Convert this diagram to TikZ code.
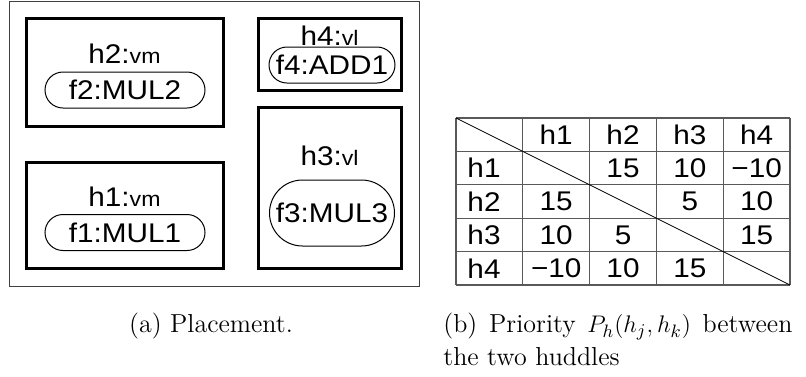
\documentclass[tikz,border=0pt]{standalone}
\usepackage{fontspec}
\setsansfont[FakeStretch=1.1]{Liberation Sans}
\usetikzlibrary{calc}
\colorlet{frame-line}{black!75}
\colorlet{grid-line}{black!65}

% small resource type after the huddle name
\newcommand\restype[1]{{\fontsize{10.5}{11}\selectfont v#1}}

\begin{document}
\begin{tikzpicture}[x=0.5pt,y=-0.5pt,
	huddle/.style={draw,line width=1.5pt},
	hname/.style={font=\sffamily\fontsize{13.5}{15}\selectfont,inner sep=0pt,anchor=base},
	unit/.style={draw,line width=0.5pt,rounded corners=9pt,minimum width=80pt,minimum height=18pt,inner sep=0pt,font=\sffamily\fontsize{13.5}{15}\selectfont},
	cell/.style={font=\sffamily\fontsize{13.5}{15}\selectfont,inner sep=0pt},
	caption/.style={font=\fontsize{13}{16.5}\selectfont,inner sep=0pt}]
	\useasboundingbox (0,0) rectangle (806,376);
	% placement area
	\draw[frame-line,line width=0.5pt] (9,1) rectangle (419,286);
	\draw[huddle] (26,18) rectangle (223,126);
	\draw[huddle] (26,162) rectangle (223,268);
	\draw[huddle] (258,18) rectangle (401,90);
	\draw[huddle] (258,107) rectangle (401,268);
	\node[hname] (h2) at (124.5,63) {h2:\restype{m}};
	\node[unit] (f2) at (125,90) {f2:MUL2};
	\node[hname] (h1) at (124.5,206) {h1:\restype{m}};
	\node[unit] (f1) at (125,232.5) {f1:MUL1};
	\node[hname] (h4) at (329.5,45) {h4:\restype{l}};
	\node[unit,minimum width=63pt] (f4) at (332,65) {f4:ADD1};
	\node[hname] (h3) at (329.5,165) {h3:\restype{l}};
	\node[unit,minimum width=62.5pt,minimum height=33pt,rounded corners=16.5pt] (f3) at (332,213) {f3:MUL3};
	% priority table
	\coordinate (tl) at (456,118);
	\coordinate (br) at (790,285);
	\foreach \c in {0,...,5}
		\draw[grid-line,line width=0.6pt] ($(tl)+(66.8*\c,0)$) -- ++(0,167);
	\foreach \r in {0,...,5}
		\draw[grid-line,line width=0.6pt] ($(tl)+(0,33.4*\r)$) -- ++(334,0);
	\draw[line width=0.4pt] (tl) -- (br);
	\foreach \i in {1,...,4} {
		\node[cell] (col-\i) at ($(tl)+(66.8*\i+33.4,16.7)$) {h\i};
		\node[cell] (row-\i) at ($(tl)+(28,33.4*\i+16.7)$) {h\i};
	}
	\foreach \r/\c/\v in {1/2/15,1/3/10,1/4/−10,
			2/1/15,2/3/5,2/4/10,
			3/1/10,3/2/5,3/4/15,
			4/1/−10,4/2/10,4/3/15}
		\node[cell] (p-\r-\c) at ($(tl)+(66.8*\c+33.4,33.4*\r+16.7)$) {\v};
	% sub-captions
	\node[caption,anchor=base] (cap-a) at (211,332) {(a) Placement.};
	\node[caption,anchor=north west,text width=174.5pt,align=justify] (cap-b) at (443,313)
		{(b) Priority $P_h(h_j,h_k)$ between\linebreak the two huddles};
\end{tikzpicture}
\end{document}
